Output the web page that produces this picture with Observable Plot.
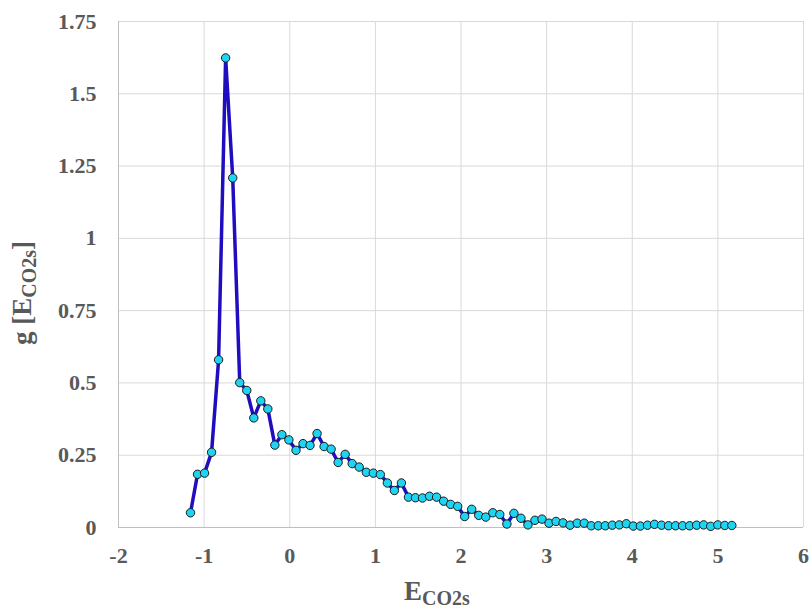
<!DOCTYPE html>
<html>
<head>
<meta charset="utf-8">
<script src="https://cdn.jsdelivr.net/npm/d3@7"></script>
<script src="https://cdn.jsdelivr.net/npm/@observablehq/plot@0.6"></script>
<style>
  html, body { margin: 0; padding: 0; background: #fff; }
  #chart svg { display: block; }
</style>
</head>
<body>
<div id="chart"></div>
<script>
const eValues = [
  -1.159, -1.077, -0.995, -0.913, -0.831, -0.749, -0.666, -0.584, -0.502, -0.420,
  -0.338, -0.256, -0.174, -0.092, -0.010, 0.073, 0.155, 0.237, 0.319, 0.401,
  0.483, 0.565, 0.647, 0.729, 0.811, 0.894, 0.976, 1.058, 1.140, 1.222,
  1.304, 1.386, 1.468, 1.550, 1.632, 1.715, 1.797, 1.879, 1.961, 2.043,
  2.125, 2.207, 2.289, 2.371, 2.453, 2.536, 2.618, 2.700, 2.782, 2.864,
  2.946, 3.028, 3.110, 3.192, 3.274, 3.357, 3.439, 3.521, 3.603, 3.685,
  3.767, 3.849, 3.931, 4.013, 4.095, 4.178, 4.260, 4.342, 4.424, 4.506,
  4.588, 4.670, 4.752, 4.834, 4.916, 4.999, 5.081, 5.163
];
const gValues = [
  0.051, 0.184, 0.188, 0.260, 0.580, 1.624, 1.209, 0.501, 0.474, 0.379,
  0.438, 0.410, 0.285, 0.321, 0.303, 0.267, 0.290, 0.284, 0.325, 0.280,
  0.271, 0.225, 0.253, 0.221, 0.209, 0.191, 0.188, 0.183, 0.154, 0.128,
  0.154, 0.105, 0.103, 0.102, 0.108, 0.105, 0.091, 0.080, 0.073, 0.038,
  0.063, 0.042, 0.036, 0.051, 0.045, 0.012, 0.049, 0.032, 0.009, 0.025,
  0.029, 0.015, 0.021, 0.016, 0.008, 0.015, 0.015, 0.006, 0.006, 0.006,
  0.008, 0.009, 0.013, 0.005, 0.005, 0.008, 0.011, 0.008, 0.006, 0.006,
  0.006, 0.006, 0.008, 0.009, 0.004, 0.009, 0.007, 0.007
];
const xTicks = [-2, -1, 0, 1, 2, 3, 4, 5, 6];
const xTickLabels = ["-2", "-1", "0", "1", "2", "3", "4", "5", "6"];
const yTicks = [0, 0.25, 0.5, 0.75, 1, 1.25, 1.5, 1.75];
const yTickLabels = ["0", "0.25", "0.5", "0.75", "1", "1.25", "1.5", "1.75"];

const data = eValues.map((e, i) => ({e, g: gValues[i]}));

const chart = Plot.plot({
  width: 812,
  height: 610,
  marginLeft: 118,
  marginRight: 9,
  marginTop: 21,
  marginBottom: 83,
  style: {
    fontFamily: "'Liberation Serif', 'Times New Roman', serif",
    fontSize: "22px",
    fontWeight: "bold",
    color: "#595959",
    background: "#fff"
  },
  x: {domain: [-2, 6], ticks: xTicks, tickFormat: d => xTickLabels[xTicks.indexOf(d)], tickSize: 0, tickPadding: 20, label: null},
  y: {domain: [0, 1.75], ticks: yTicks, tickFormat: d => yTickLabels[yTicks.indexOf(d)], tickSize: 0, tickPadding: 22, label: null},
  marks: [
    Plot.gridX(xTicks, {stroke: "#d9d9d9", strokeOpacity: 1, strokeWidth: 1}),
    Plot.gridY(yTicks, {stroke: "#d9d9d9", strokeOpacity: 1, strokeWidth: 1}),
    Plot.ruleX([-2], {stroke: "#bfbfbf", strokeWidth: 1}),
    Plot.ruleY([0], {stroke: "#bfbfbf", strokeWidth: 1}),
    Plot.line(data, {x: "e", y: "g", stroke: "#1f0dbf", strokeWidth: 3.5, strokeLinejoin: "round"}),
    Plot.dot(data, {x: "e", y: "g", r: 4.2, fill: "#1ed4f2", fillOpacity: 1, stroke: "#1a1a1a", strokeWidth: 1})
  ]
});

document.getElementById("chart").appendChild(chart);

const svg = d3.select(chart);
// x axis label: E with subscript CO2s
const xl = svg.append("text")
  .attr("x", 437).attr("y", 600)
  .attr("text-anchor", "middle")
  .attr("fill", "#595959")
  .style("font-family", "'Liberation Serif', 'Times New Roman', serif")
  .style("font-weight", "bold");
xl.append("tspan").style("font-size", "27px").text("E");
xl.append("tspan").style("font-size", "20px").attr("dy", 5).text("CO2s");

// y axis label: g [E_CO2s]
const yl = svg.append("text")
  .attr("transform", "translate(31,293) rotate(-90)")
  .attr("text-anchor", "middle")
  .attr("fill", "#595959")
  .style("font-family", "'Liberation Serif', 'Times New Roman', serif")
  .style("font-weight", "bold");
yl.append("tspan").style("font-size", "27px").text("g [E");
yl.append("tspan").style("font-size", "20px").attr("dy", 5).text("CO2s");
yl.append("tspan").style("font-size", "27px").attr("dy", -5).text("]");
</script>
</body>
</html>
